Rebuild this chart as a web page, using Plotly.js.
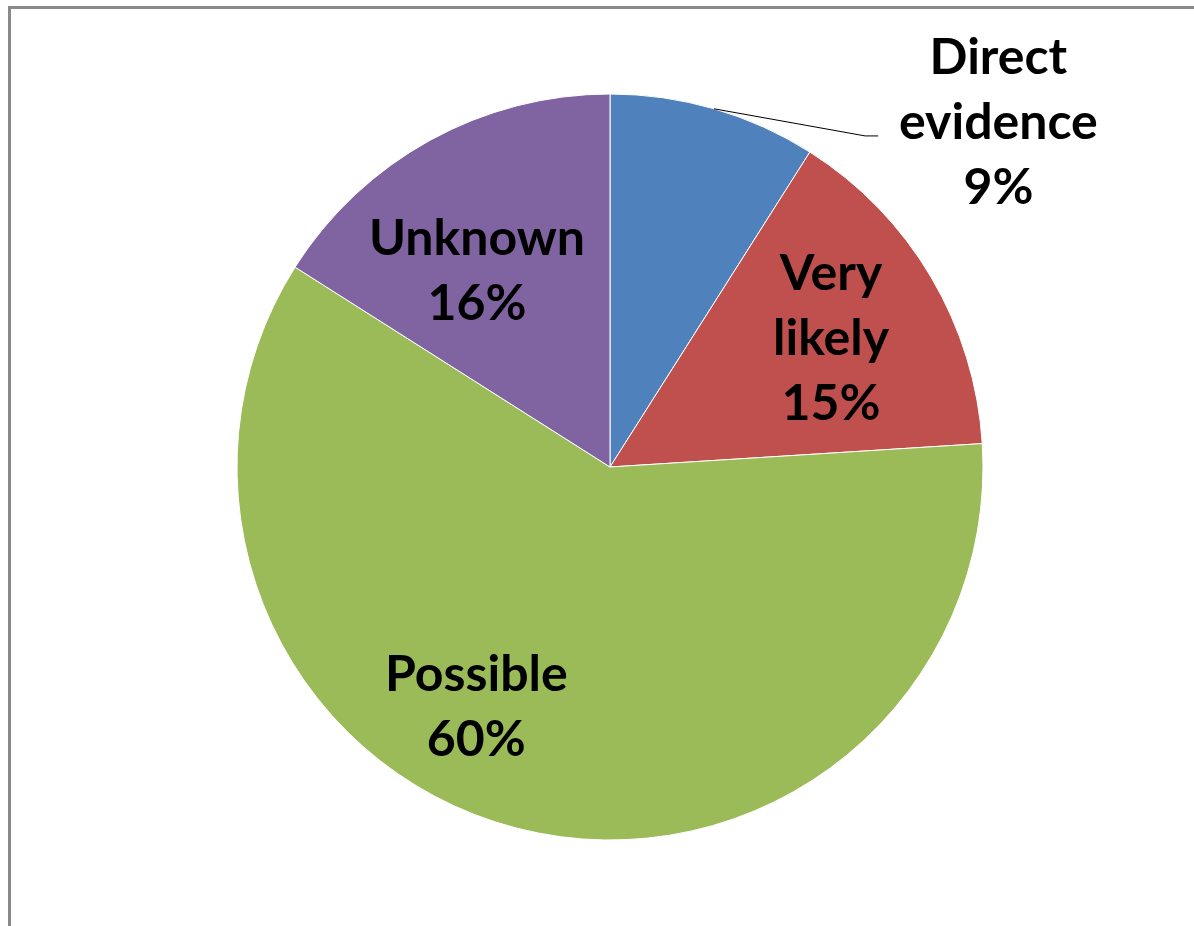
<!DOCTYPE html>
<html>
<head>
<meta charset="utf-8">
<script src="https://cdn.plot.ly/plotly-3.0.1.min.js"></script>
<style>
  html, body { margin: 0; padding: 0; background: #ffffff; }
  #chart { width: 1194px; height: 926px; position: absolute; left: 0; top: 0; }
  #frame { position: absolute; left: 8px; top: 6px; width: 1300px; height: 1000px;
           border-top: 3px solid #898989; border-left: 3px solid #898989; pointer-events: none; z-index: 10; }
</style>
</head>
<body>
<div id="chart"></div>
<div id="frame"></div>
<script>
// Data
const categories = ["Direct evidence", "Very likely", "Possible", "Unknown"];
const labelText = ["Direct<br>evidence", "Very<br>likely", "Possible", "Unknown"];
const values = [9, 15, 60, 16];
const colors = ["#4F81BD", "#C0504D", "#9BBB59", "#8064A2"];

// Layout geometry (pixels)
const W = 1194, H = 926;
const cx = 610, cy = 467, R = 373;

// Label placement: [radial fraction, angle offset in degrees] relative to slice mid-angle
const labelStyle = [[1.396, 32], [0.69, 0], [0.73, 15], [0.64, -5]];

const total = values.reduce((a, b) => a + b, 0);
let cum = 0;
const annotations = [];
const shapes = [];
values.forEach((v, i) => {
  const mid = (cum + v / 2) / total * 2 * Math.PI;
  cum += v;
  const a = mid + labelStyle[i][1] * Math.PI / 180;
  const r = R * labelStyle[i][0];
  const px = cx + r * Math.sin(a);
  const py = cy - r * Math.cos(a);
  const pct = Math.round(v / total * 100) + "%";
  annotations.push({
    x: px / W, y: 1 - py / H, xref: "paper", yref: "paper",
    text: "<b>" + labelText[i] + "<br>" + pct + "</b>",
    showarrow: false, xanchor: "center", yanchor: "middle", align: "center",
    font: { family: "Lato, 'Open Sans', sans-serif", size: 50, color: "#000000" }
  });
  if (i === 0) {
    // leader line from slice edge (at mid-angle) to label
    const ex = cx + R * Math.sin(mid);
    const ey = cy - R * Math.cos(mid);
    const lx = px - 120, ly = py + 16;
    shapes.push({
      type: "path", xref: "paper", yref: "paper",
      path: "M " + (ex / W) + "," + (1 - ey / H) + " L " + ((lx - 13) / W) + "," + (1 - ly / H) +
            " L " + (lx / W) + "," + (1 - ly / H),
      line: { color: "#000000", width: 1 }
    });
  }
});

const trace = {
  type: "pie",
  labels: categories,
  values: values,
  sort: false,
  direction: "clockwise",
  rotation: 0,
  textinfo: "none",
  hoverinfo: "label+percent",
  marker: { colors: colors, line: { color: "#ffffff", width: 1 } },
  domain: { x: [(cx - R) / W, (cx + R) / W], y: [1 - (cy + R) / H, 1 - (cy - R) / H] }
};

const layout = {
  width: W, height: H,
  margin: { l: 0, r: 0, t: 0, b: 0 },
  showlegend: false,
  paper_bgcolor: "#ffffff",
  annotations: annotations,
  shapes: shapes
};

Plotly.newPlot("chart", [trace], layout, { displayModeBar: false, staticPlot: true });
</script>
</body>
</html>
